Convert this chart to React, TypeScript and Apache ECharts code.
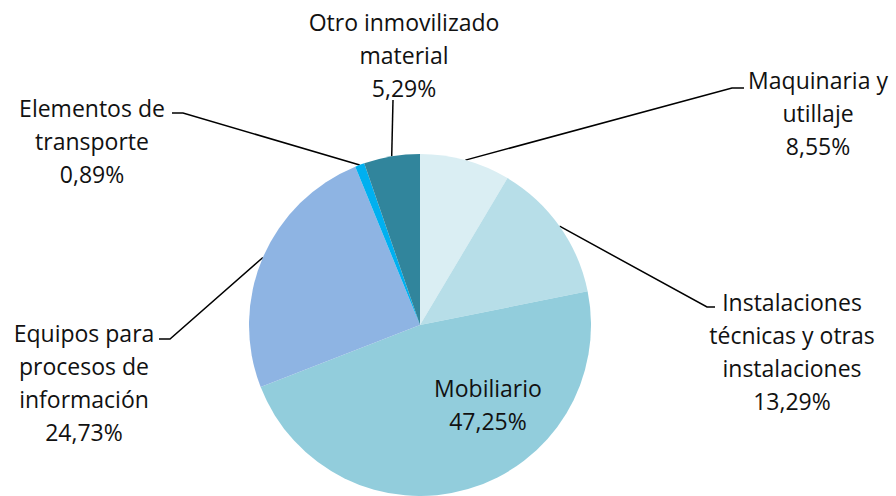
import React, { useEffect, useRef } from "react";
import * as echarts from "echarts";

const categories = [
  "Maquinaria y utillaje",
  "Instalaciones técnicas y otras instalaciones",
  "Mobiliario",
  "Equipos para procesos de información",
  "Elementos de transporte",
  "Otro inmovilizado material",
];
const labelTexts = [
  "Maquinaria y\nutillaje",
  "Instalaciones\ntécnicas y otras\ninstalaciones",
  "Mobiliario",
  "Equipos para\nprocesos de\ninformación",
  "Elementos de\ntransporte",
  "Otro inmovilizado\nmaterial",
];
const values = [8.55, 13.29, 47.25, 24.73, 0.89, 5.29];
const colors = ["#DAEEF3", "#B7DEE8", "#92CDDC", "#8EB4E3", "#00B0F0", "#31859C"];

// label placement (layout only)
const labelPlacement: { x: number; y: number; elbow?: number[]; end?: number[] }[] = [
  { x: 818, y: 63, elbow: [732, 88], end: [744, 88] },
  { x: 792, y: 285, elbow: [707, 307], end: [715, 307] },
  { x: 488, y: 371 },
  { x: 84, y: 316, elbow: [170, 339], end: [159, 339] },
  { x: 92, y: 91, elbow: [183, 113], end: [172, 113] },
  { x: 404, y: 5, elbow: [393, 100], end: [393, 100] },
];

export default function App() {
  const ref = useRef<HTMLDivElement>(null);
  useEffect(() => {
    if (!ref.current) return;
    const chart = echarts.init(ref.current, undefined, { renderer: "svg" });
    chart.setOption({
      animation: false,
      backgroundColor: "#ffffff",
      textStyle: { fontFamily: "Open Sans" },
      series: [
        {
          type: "pie",
          center: [420, 325],
          radius: 171,
          startAngle: 90,
          clockwise: true,
          avoidLabelOverlap: false,
          data: categories.map((name, i) => ({
            name,
            value: values[i],
            itemStyle: { color: colors[i] },
            label:
              i === 2
                ? { position: "inside" }
                : { position: "outside" },
            labelLine: { show: i !== 2 },
          })),
          label: {
            show: true,
            color: "#111111",
            fontFamily: "Open Sans",
            fontSize: 23,
            lineHeight: 33,
            align: "center",
            formatter: (p: any) =>
              `${labelTexts[p.dataIndex]}\n${values[p.dataIndex].toFixed(2).replace(".", ",")}%`,
          },
          labelLine: {
            show: true,
            lineStyle: { color: "#000000", width: 1.5 },
          },
          labelLayout: (params: any) => {
            const i = params.dataIndex;
            const pl = labelPlacement[i];
            const res: any = { x: pl.x, y: pl.y, align: "center", verticalAlign: "top" };
            if (pl.elbow && params.labelLinePoints) {
              const start = params.labelLinePoints[0];
              res.labelLinePoints = [start, pl.elbow, pl.end];
            }
            return res;
          },
        },
      ],
    });
    return () => chart.dispose();
  }, []);
  return (
    <div
      ref={ref}
      style={{ position: "fixed", left: 0, top: 0, width: 896, height: 496 }}
    />
  );
}
